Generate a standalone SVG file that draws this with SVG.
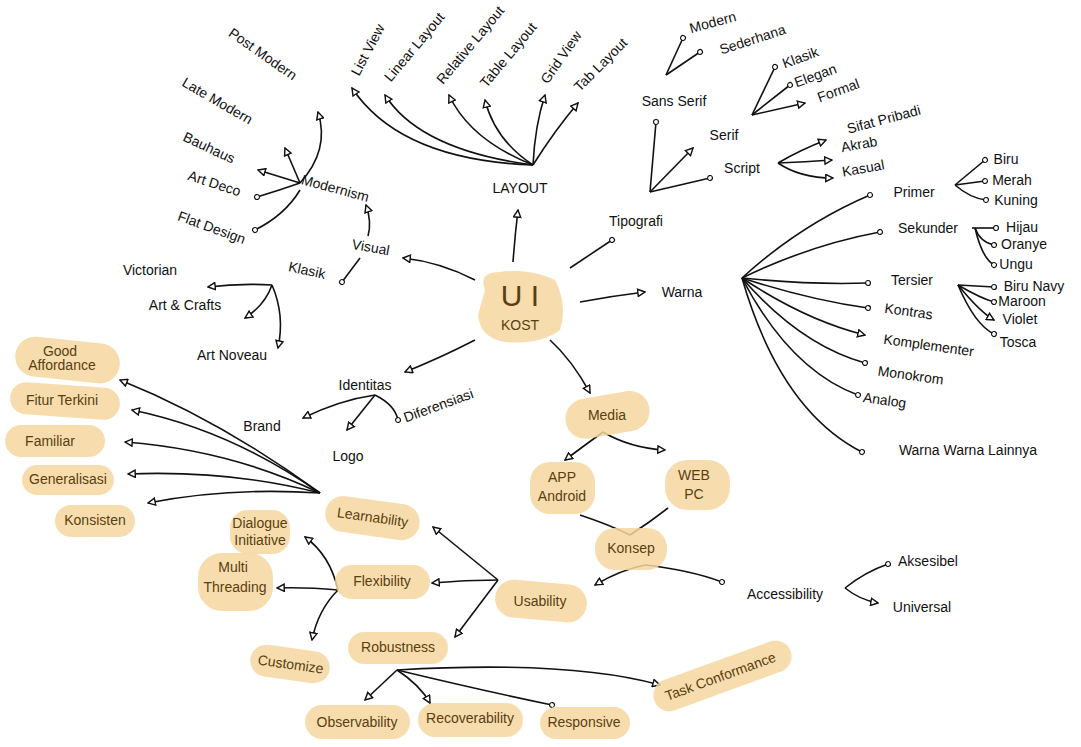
<svg xmlns="http://www.w3.org/2000/svg" width="1081" height="747" viewBox="0 0 1081 747">
<defs>
<style>
text{font-family:"Liberation Sans","DejaVu Sans",sans-serif;font-size:14px;fill:#111}
.h{fill:#5a3d10}
.blob{fill:#f6d7a0;opacity:0.85}
.c path,.c line{fill:none;stroke:#111;stroke-width:1.6}
.big{font-size:30px}
</style>
<marker id="a" viewBox="0 0 10 10" refX="9" refY="5" markerWidth="9" markerHeight="9" markerUnits="userSpaceOnUse" orient="auto">
<path d="M1,1 L9,5 L1,9 Z" fill="#fff" stroke="#111" stroke-width="1.6"/>
</marker>
<marker id="o" viewBox="0 0 10 10" refX="5" refY="5" markerWidth="7" markerHeight="7" markerUnits="userSpaceOnUse" orient="auto">
<circle cx="5" cy="5" r="3.5" fill="#fff" stroke="#111" stroke-width="1.6"/>
</marker>
</defs>
<rect width="1081" height="747" fill="#fff"/>

<g id="connectors" class="c">
<path d="M513,262 Q515,235 518,210" marker-end="url(#a)"/>
<path d="M570,268 L612,240" marker-end="url(#o)"/>
<path d="M580,302 Q612,296 645,292" marker-end="url(#a)"/>
<path d="M550,340 Q572,360 590,393" marker-end="url(#a)"/>
<path d="M475,340 Q440,358 405,372" marker-end="url(#a)"/>
<path d="M475,280 Q440,262 403,258" marker-end="url(#a)"/>
<path d="M368,236 Q372,222 366,205" marker-end="url(#a)"/>
<path d="M360,258 L342,282" marker-end="url(#o)"/>
<path d="M300,183 Q330,150 318,112" marker-end="url(#a)"/>
<path d="M300,183 L285,148" marker-end="url(#a)"/>
<path d="M300,183 L258,170" marker-end="url(#a)"/>
<path d="M300,183 Q280,190 257,197" marker-end="url(#o)"/>
<path d="M300,190 Q285,215 255,230" marker-end="url(#o)"/>
<path d="M272,285 Q240,283 208,287" marker-end="url(#a)"/>
<path d="M272,285 Q265,305 245,318" marker-end="url(#a)"/>
<path d="M272,285 Q285,315 278,348" marker-end="url(#a)"/>
<path d="M375,395 Q340,400 303,418" marker-end="url(#a)"/>
<path d="M375,395 L347,430" marker-end="url(#a)"/>
<path d="M375,395 Q395,405 398,420" marker-end="url(#o)"/>
<path d="M320,493 Q220,420 120,380" marker-end="url(#a)"/>
<path d="M320,493 Q230,430 132,410" marker-end="url(#a)"/>
<path d="M320,493 Q230,450 125,442" marker-end="url(#a)"/>
<path d="M320,493 Q230,470 128,474" marker-end="url(#a)"/>
<path d="M320,493 Q230,487 148,503" marker-end="url(#a)"/>
<path d="M498,580 L433,527" marker-end="url(#a)"/>
<path d="M498,580 Q465,580 432,583" marker-end="url(#a)"/>
<path d="M498,580 L455,637" marker-end="url(#a)"/>
<path d="M338,590 Q330,555 305,537" marker-end="url(#a)"/>
<path d="M338,590 Q305,587 277,588" marker-end="url(#a)"/>
<path d="M338,590 Q318,610 312,640" marker-end="url(#a)"/>
<path d="M397,670 L365,700" marker-end="url(#a)"/>
<path d="M397,670 Q420,685 430,703" marker-end="url(#a)"/>
<path d="M397,670 Q480,690 552,705" marker-end="url(#o)"/>
<path d="M397,670 Q570,660 660,685" marker-end="url(#a)"/>
<path d="M603,432 Q585,445 565,460" marker-end="url(#a)"/>
<path d="M603,432 Q630,448 665,450" marker-end="url(#a)"/>
<path d="M580,515 Q610,525 630,535"/>
<path d="M668,508 Q650,522 630,535"/>
<path d="M645,565 Q620,570 595,585" marker-end="url(#a)"/>
<path d="M645,565 Q690,570 722,582" marker-end="url(#o)"/>
<path d="M845,588 Q865,572 888,564" marker-end="url(#o)"/>
<path d="M845,588 Q860,600 878,603" marker-end="url(#a)"/>
<path d="M742,278 Q800,225 870,195" marker-end="url(#o)"/>
<path d="M742,278 Q810,245 880,232" marker-end="url(#o)"/>
<path d="M742,278 Q810,285 868,283" marker-end="url(#o)"/>
<path d="M742,278 Q810,300 868,308" marker-end="url(#o)"/>
<path d="M742,278 Q805,320 865,335" marker-end="url(#a)"/>
<path d="M742,278 Q800,345 865,363" marker-end="url(#o)"/>
<path d="M742,278 Q790,370 858,395" marker-end="url(#o)"/>
<path d="M742,278 Q780,410 862,452" marker-end="url(#o)"/>
<path d="M955,185 L985,160" marker-end="url(#o)"/>
<path d="M955,185 L985,181" marker-end="url(#o)"/>
<path d="M955,185 Q970,198 986,200" marker-end="url(#o)"/>
<path d="M972,228 L996,228" marker-end="url(#o)"/>
<path d="M975,228 Q980,242 994,245" marker-end="url(#o)"/>
<path d="M975,228 Q982,258 994,265" marker-end="url(#o)"/>
<path d="M958,285 L994,287" marker-end="url(#o)"/>
<path d="M958,285 Q980,298 994,302" marker-end="url(#o)"/>
<path d="M958,285 Q980,312 994,320" marker-end="url(#a)"/>
<path d="M958,285 Q975,325 994,334" marker-end="url(#o)"/>
<path d="M650,192 L656,122" marker-end="url(#o)"/>
<path d="M650,192 L693,148" marker-end="url(#a)"/>
<path d="M650,192 Q680,185 710,178" marker-end="url(#o)"/>
<path d="M666,75 L683,38" marker-end="url(#o)"/>
<path d="M666,75 L700,52" marker-end="url(#o)"/>
<path d="M752,115 L775,67" marker-end="url(#o)"/>
<path d="M752,115 L790,85" marker-end="url(#o)"/>
<path d="M752,115 L805,103" marker-end="url(#a)"/>
<path d="M778,163 Q800,150 826,140" marker-end="url(#a)"/>
<path d="M778,163 Q805,162 832,160" marker-end="url(#a)"/>
<path d="M778,163 Q800,178 833,178" marker-end="url(#a)"/>
<path d="M533,165 Q400,160 352,88" marker-end="url(#a)"/>
<path d="M533,165 Q420,150 385,95" marker-end="url(#a)"/>
<path d="M533,165 Q470,140 449,95" marker-end="url(#a)"/>
<path d="M533,165 Q495,140 485,100" marker-end="url(#a)"/>
<path d="M533,165 Q535,125 545,95" marker-end="url(#a)"/>
<path d="M533,165 Q555,130 578,103" marker-end="url(#a)"/>
</g>

<g id="n-center"><path class="blob" d="M485,290 Q478,272 500,272 Q530,268 555,280 Q568,305 560,330 Q540,345 505,342 Q480,338 478,315 Z"/><text class="h big" x="520" y="306" text-anchor="middle">U I</text><text class="h" x="520" y="330" text-anchor="middle">KOST</text></g>
<g id="n-layout"><text x="520" y="193" text-anchor="middle">LAYOUT</text></g>
<g id="n-listview"><text transform="translate(372,52) rotate(-62)" text-anchor="middle">List View</text></g>
<g id="n-linear"><text transform="translate(418,50) rotate(-50)" text-anchor="middle">Linear Layout</text></g>
<g id="n-relative"><text transform="translate(474,48) rotate(-50)" text-anchor="middle">Relative Layout</text></g>
<g id="n-table"><text transform="translate(512,58) rotate(-50)" text-anchor="middle">Table Layout</text></g>
<g id="n-grid"><text transform="translate(565,60) rotate(-55)" text-anchor="middle">Grid View</text></g>
<g id="n-tab"><text transform="translate(604,68) rotate(-45)" text-anchor="middle">Tab Layout</text></g>

<g id="n-visual"><text transform="translate(370,252) rotate(10)" text-anchor="middle">Visual</text></g>
<g id="n-modernism"><text transform="translate(334,193) rotate(15)" text-anchor="middle">Modernism</text></g>
<g id="n-postmodern"><text transform="translate(260,58) rotate(35)" text-anchor="middle" font-size="15">Post Modern</text></g>
<g id="n-latemodern"><text transform="translate(215,105) rotate(30)" text-anchor="middle">Late Modern</text></g>
<g id="n-bauhaus"><text transform="translate(207,152) rotate(25)" text-anchor="middle">Bauhaus</text></g>
<g id="n-artdeco"><text transform="translate(213,188) rotate(18)" text-anchor="middle">Art Deco</text></g>
<g id="n-flat"><text transform="translate(210,232) rotate(20)" text-anchor="middle" font-size="15">Flat Design</text></g>
<g id="n-klasik"><text transform="translate(306,275) rotate(12)" text-anchor="middle">Klasik</text></g>
<g id="n-victorian"><text x="150" y="275" text-anchor="middle">Victorian</text></g>
<g id="n-artcrafts"><text x="185" y="310" text-anchor="middle">Art &amp; Crafts</text></g>
<g id="n-artnoveau"><text x="232" y="360" text-anchor="middle">Art Noveau</text></g>

<g id="n-identitas"><text x="365" y="390" text-anchor="middle">Identitas</text></g>
<g id="n-brand"><text x="262" y="431" text-anchor="middle" font-size="16">Brand</text></g>
<g id="n-logo"><text x="348" y="461" text-anchor="middle">Logo</text></g>
<g id="n-diferensiasi"><text transform="translate(440,410) rotate(-20)" text-anchor="middle">Diferensiasi</text></g>

<g id="n-tipografi"><text x="636" y="226" text-anchor="middle">Tipografi</text></g>
<g id="n-sansserif"><text x="674" y="106" text-anchor="middle">Sans Serif</text></g>
<g id="n-modern"><text transform="translate(714,27) rotate(-15)" text-anchor="middle">Modern</text></g>
<g id="n-sederhana"><text transform="translate(754,44) rotate(-18)" text-anchor="middle">Sederhana</text></g>
<g id="n-serif"><text x="724" y="140" text-anchor="middle">Serif</text></g>
<g id="n-klasik2"><text transform="translate(802,62) rotate(-20)" text-anchor="middle">Klasik</text></g>
<g id="n-elegan"><text transform="translate(817,80) rotate(-20)" text-anchor="middle">Elegan</text></g>
<g id="n-formal"><text transform="translate(840,95) rotate(-20)" text-anchor="middle">Formal</text></g>
<g id="n-script"><text x="742" y="173" text-anchor="middle">Script</text></g>
<g id="n-sifat"><text transform="translate(885,124) rotate(-15)" text-anchor="middle">Sifat Pribadi</text></g>
<g id="n-akrab"><text transform="translate(860,149) rotate(-10)" text-anchor="middle">Akrab</text></g>
<g id="n-kasual"><text transform="translate(864,173) rotate(-10)" text-anchor="middle">Kasual</text></g>

<g id="n-warna"><text x="682" y="297" text-anchor="middle">Warna</text></g>
<g id="n-primer"><text x="914" y="197" text-anchor="middle">Primer</text></g>
<g id="n-biru"><text x="1006" y="164" text-anchor="middle" font-size="11">Biru</text></g>
<g id="n-merah"><text x="1012" y="185" text-anchor="middle" font-size="11">Merah</text></g>
<g id="n-kuning"><text x="1016" y="205" text-anchor="middle" font-size="11">Kuning</text></g>
<g id="n-sekunder"><text x="928" y="233" text-anchor="middle">Sekunder</text></g>
<g id="n-hijau"><text x="1022" y="232" text-anchor="middle" font-size="11">Hijau</text></g>
<g id="n-oranye"><text x="1024" y="249" text-anchor="middle" font-size="11">Oranye</text></g>
<g id="n-ungu"><text x="1016" y="269" text-anchor="middle" font-size="11">Ungu</text></g>
<g id="n-tersier"><text x="912" y="285" text-anchor="middle">Tersier</text></g>
<g id="n-biru-navy"><text x="1034" y="291" text-anchor="middle" font-size="11">Biru Navy</text></g>
<g id="n-maroon"><text x="1022" y="306" text-anchor="middle" font-size="11">Maroon</text></g>
<g id="n-violet"><text x="1020" y="324" text-anchor="middle" font-size="11">Violet</text></g>
<g id="n-tosca"><text x="1018" y="347" text-anchor="middle" font-size="11">Tosca</text></g>
<g id="n-kontras"><text transform="translate(908,316) rotate(8)" text-anchor="middle">Kontras</text></g>
<g id="n-komplementer"><text transform="translate(928,350) rotate(8)" text-anchor="middle">Komplementer</text></g>
<g id="n-monokrom"><text transform="translate(910,380) rotate(8)" text-anchor="middle">Monokrom</text></g>
<g id="n-analog"><text transform="translate(884,405) rotate(8)" text-anchor="middle">Analog</text></g>
<g id="n-lainnya"><text x="968" y="455" text-anchor="middle">Warna Warna Lainnya</text></g>

<g id="n-media"><rect class="blob" x="565" y="395" width="85" height="40" rx="20" transform="rotate(-10 607 415)"/><text class="h" x="607" y="420" text-anchor="middle" font-size="15">Media</text></g>
<g id="n-app"><rect class="blob" x="530" y="462" width="65" height="52" rx="20"/><text class="h" x="562" y="482" text-anchor="middle">APP</text><text class="h" x="562" y="501" text-anchor="middle" font-size="10">Android</text></g>
<g id="n-web"><rect class="blob" x="665" y="460" width="65" height="50" rx="22"/><text class="h" x="694" y="480" text-anchor="middle">WEB</text><text class="h" x="694" y="499" text-anchor="middle">PC</text></g>
<g id="n-konsep"><rect class="blob" x="595" y="528" width="72" height="42" rx="20"/><text class="h" x="631" y="553" text-anchor="middle">Konsep</text></g>
<g id="n-accessibility"><text x="785" y="599" text-anchor="middle">Accessibility</text></g>
<g id="n-aksesibel"><text x="928" y="566" text-anchor="middle">Aksesibel</text></g>
<g id="n-universal"><text x="922" y="612" text-anchor="middle">Universal</text></g>
<g id="n-usability"><rect class="blob" x="495" y="582" width="92" height="38" rx="19" transform="rotate(5 541 601)"/><text class="h" x="540" y="606" text-anchor="middle">Usability</text></g>
<g id="n-learnability"><rect class="blob" x="325" y="500" width="95" height="36" rx="18" transform="rotate(8 372 518)"/><text class="h" transform="translate(372,522) rotate(8)" text-anchor="middle" font-size="13">Learnability</text></g>
<g id="n-predict"><rect class="blob" x="15" y="340" width="105" height="40" rx="20" transform="rotate(6 67 360)"/><text class="h" x="60" y="356" text-anchor="middle" font-size="10">Good</text><text class="h" x="62" y="370" text-anchor="middle" font-size="10">Affordance</text></g>
<g id="n-fitur"><rect class="blob" x="10" y="385" width="110" height="32" rx="16" transform="rotate(4 65 401)"/><text class="h" x="62" y="405" text-anchor="middle" font-size="11">Fitur Terkini</text></g>
<g id="n-familiar"><rect class="blob" x="5" y="425" width="100" height="32" rx="16"/><text class="h" x="50" y="446" text-anchor="middle" font-size="11">Familiar</text></g>
<g id="n-generalisasi"><rect class="blob" x="22" y="465" width="92" height="30" rx="15"/><text class="h" x="68" y="484" text-anchor="middle" font-size="10">Generalisasi</text></g>
<g id="n-konsisten"><rect class="blob" x="55" y="505" width="80" height="32" rx="16"/><text class="h" x="95" y="525" text-anchor="middle" font-size="11">Konsisten</text></g>
<g id="n-flexibility"><rect class="blob" x="335" y="565" width="95" height="34" rx="17"/><text class="h" x="382" y="586" text-anchor="middle" font-size="13">Flexibility</text></g>
<g id="n-dialogue"><rect class="blob" x="230" y="510" width="60" height="44" rx="18"/><text class="h" x="260" y="528" text-anchor="middle" font-size="10">Dialogue</text><text class="h" x="260" y="545" text-anchor="middle" font-size="10">Initiative</text></g>
<g id="n-multi"><rect class="blob" x="198" y="553" width="75" height="58" rx="24"/><text class="h" x="233" y="572" text-anchor="middle" font-size="10">Multi</text><text class="h" x="235" y="592" text-anchor="middle">Threading</text></g>
<g id="n-customize"><rect class="blob" x="250" y="648" width="80" height="32" rx="16" transform="rotate(8 290 664)"/><text class="h" transform="translate(290,669) rotate(8)" text-anchor="middle" font-size="11">Customize</text></g>
<g id="n-robustness"><rect class="blob" x="348" y="632" width="100" height="32" rx="16"/><text class="h" x="398" y="652" text-anchor="middle" font-size="11">Robustness</text></g>
<g id="n-observability"><rect class="blob" x="305" y="705" width="105" height="34" rx="17"/><text class="h" x="357" y="727" text-anchor="middle" font-size="13">Observability</text></g>
<g id="n-recoverability"><rect class="blob" x="418" y="703" width="105" height="34" rx="17"/><text class="h" x="470" y="723" text-anchor="middle" font-size="11">Recoverability</text></g>
<g id="n-responsive"><rect class="blob" x="540" y="707" width="90" height="32" rx="16"/><text class="h" x="584" y="727" text-anchor="middle" font-size="11">Responsive</text></g>
<g id="n-task"><rect class="blob" x="650" y="660" width="145" height="32" rx="16" transform="rotate(-20 722 676)"/><text class="h" transform="translate(722,681) rotate(-20)" text-anchor="middle" font-size="11">Task Conformance</text></g>
</svg>
